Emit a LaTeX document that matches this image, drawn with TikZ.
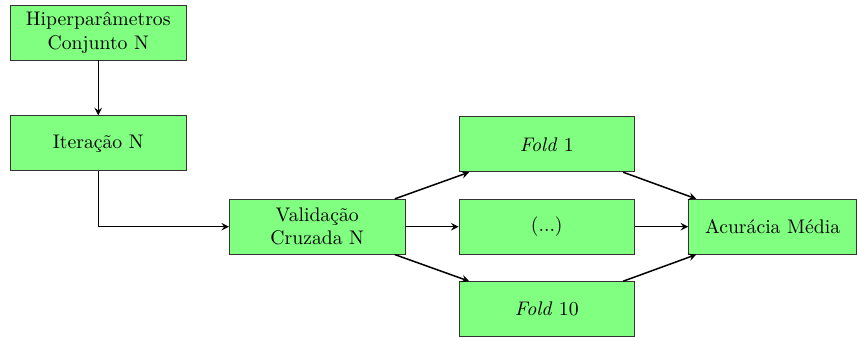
\documentclass[tikz,border=0pt]{standalone}
\usepackage{tikz}
\usetikzlibrary{positioning}
\usetikzlibrary{arrows}
\usetikzlibrary{calc}

\begin{document}
\begin{tikzpicture}[%%
  boxStyle/.style={draw=black!80,fill=green!50,minimum width=3.29cm,minimum height=1.03cm,align=center,inner sep=2pt,font=\fontsize{10.5}{12.4}\selectfont},%%
  arrowStyle/.style={->,>=stealth,thick}%%
]
%%
%%
\pgfmathsetmacro{\gapx}{1.0}
\pgfmathsetmacro{\gapy}{0.5}
%% The chain on the left.
\node[boxStyle] (hiper) at (0,0) {Hiperpar\^ametros\\Conjunto N};
\node[boxStyle,below=1.03cm of hiper] (iter) {Itera\c{c}\~ao N};
\node[boxStyle,below right=0.52cm and 0.8cm of iter] (valid) {Valida\c{c}\~ao\\Cruzada N};
%% The folds.
\node[boxStyle,right=\gapx cm of valid] (dots) {(...)};
\node[boxStyle,above=\gapy cm of dots] (foldA) {\textit{Fold} 1};
\node[boxStyle,below=\gapy cm of dots] (foldB) {\textit{Fold} 10};
%% The mean.
\node[boxStyle,minimum width=3.15cm,right=\gapx cm of dots] (media) {Acur\'acia M\'edia};
%% Fix the margins.
\coordinate (topLeft) at ($(hiper.north west)+(-0.19,0.09)$);
\useasboundingbox (topLeft) rectangle ++(16.02,-6.23);
%%
%%
%% Connect the boxes.
\draw[arrowStyle] (hiper) -- (iter);
\draw[arrowStyle] (iter) |- (valid);
\draw[arrowStyle] (valid) -- (foldA);
\draw[arrowStyle] (valid) -- (dots);
\draw[arrowStyle] (valid) -- (foldB);
\draw[arrowStyle] (foldA) -- (media);
\draw[arrowStyle] (dots) -- (media);
\draw[arrowStyle] (foldB) -- (media);
\end{tikzpicture}
\end{document}
